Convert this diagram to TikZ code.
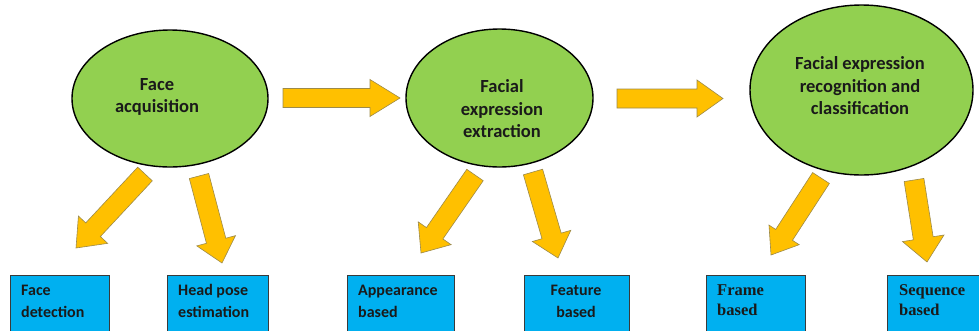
\documentclass[tikz,border=0pt]{standalone}
\usepackage{fontspec}
\setmainfont{Carlito}
\newfontfamily\timesf{Liberation Serif}
\usetikzlibrary{shapes.geometric,calc}
\definecolor{egreen}{HTML}{92D050}
\definecolor{aorange}{HTML}{FFC000}
\definecolor{bblue}{HTML}{00B0F0}
\definecolor{aline}{HTML}{9C8A4A}
\definecolor{txt}{HTML}{1A1A1A}
\definecolor{bline}{HTML}{3A3A3A}
\tikzset{
  ell/.style={ellipse,draw=black,line width=1.4pt,fill=egreen,inner sep=0pt},
  bigtxt/.style={font=\bfseries\fontsize{18.5}{22.5}\selectfont,text=txt,align=center,inner sep=0pt},
  boxnode/.style={rectangle,draw=bline,line width=0.9pt,fill=bblue,anchor=north west,inner sep=0pt},
  boxtxt/.style={font=\bfseries\fontsize{16}{22}\selectfont,text=txt,align=left,inner sep=0pt,anchor=north west},
  boxtxtc/.style={font=\bfseries\fontsize{16}{22}\selectfont,text=txt,align=center,inner sep=0pt,anchor=north},
  serftxt/.style={font=\timesf\bfseries\fontsize{16.5}{20}\selectfont,text=txt,align=left,inner sep=0pt,anchor=north west},
  arrowshape/.style={fill=aorange,draw=aline,line width=0.6pt,line join=miter},
}
% #1 tail, #2 tip, #3 half shaft, #4 half head, #5 head length
\newcommand\blockarrow[5]{%
  \coordinate (hb-#1) at ($(#2)!#5!(#1)$);
  \path[arrowshape] ($(#1)!#3!90:(#2)$) -- ($(hb-#1)!#3!90:(#2)$) -- ($(hb-#1)!#4!90:(#2)$)
    -- (#2) -- ($(hb-#1)!#4!-90:(#2)$) -- ($(hb-#1)!#3!-90:(#2)$) -- ($(#1)!#3!-90:(#2)$) -- cycle;
}
\begin{document}
\begin{tikzpicture}[x=1pt,y=-1pt]
\useasboundingbox (0,0) rectangle (979,330);
\clip (0,0) rectangle (979,330);
% ellipses
\node[ell,minimum width=196pt,minimum height=137pt] (e1) at (170,98.5) {};
\node[ell,minimum width=187pt,minimum height=138pt] (e2) at (499.5,98) {};
\node[ell,minimum width=223pt,minimum height=170pt] (e3) at (861.5,90) {};
\node[bigtxt] (te1) at (157,97) {Face\\acquisition};
\node[bigtxt] (te2) at (502,109) {Facial\\expression\\extraction};
\node[bigtxt] (te3) at (860,86) {Facial expression\\recognition and\\classification};
% boxes
\node[boxnode,minimum width=99pt,minimum height=70pt] (b1) at (10,275) {};
\node[boxnode,minimum width=101pt,minimum height=70pt] (b2) at (167,275) {};
\node[boxnode,minimum width=107pt,minimum height=70pt] (b3) at (347,275) {};
\node[boxnode,minimum width=105pt,minimum height=70pt] (b4) at (524,275) {};
\node[boxnode,minimum width=99pt,minimum height=70pt] (b5) at (706,275) {};
\node[boxnode,minimum width=110pt,minimum height=70pt] (b6) at (887,275) {};
\node[boxtxt] (tb1) at (21,284.5) {Face\\detection};
\node[boxtxt] (tb2) at (178,284.5) {Head pose\\estimation};
\node[boxtxt] (tb3) at (358,285) {Appearance\\based};
\node[boxtxtc] (tb4) at (576,285) {Feature\\based};
\node[serftxt] (tb5) at (717,284) {Frame\\based};
\node[serftxt] (tb6) at (899,284) {Sequence\\based};
% horizontal arrows
\coordinate (h1t) at (283,98);
\coordinate (h1p) at (400,98);
\coordinate (h2t) at (617,98.5);
\coordinate (h2p) at (723,98.5);
\blockarrow{h1t}{h1p}{9.5pt}{18.5pt}{30pt}
\blockarrow{h2t}{h2p}{9.5pt}{18.5pt}{26pt}
% diagonal arrows
\coordinate (d1t) at (145,174);  \coordinate (d1p) at (76,248);
\coordinate (d2t) at (199,176);  \coordinate (d2p) at (222,263);
\coordinate (d3t) at (475,175);  \coordinate (d3p) at (421,253);
\coordinate (d4t) at (533,172);  \coordinate (d4p) at (558,258);
\coordinate (d5t) at (821,178);  \coordinate (d5p) at (771,255);
\coordinate (d6t) at (914,180);  \coordinate (d6p) at (927,262);
\blockarrow{d1t}{d1p}{10pt}{20pt}{25pt}
\blockarrow{d2t}{d2p}{10pt}{20pt}{23pt}
\blockarrow{d3t}{d3p}{10pt}{20pt}{24pt}
\blockarrow{d4t}{d4p}{10pt}{20pt}{23pt}
\blockarrow{d5t}{d5p}{10pt}{18pt}{24pt}
\blockarrow{d6t}{d6p}{10pt}{21pt}{24pt}
\end{tikzpicture}
\end{document}
